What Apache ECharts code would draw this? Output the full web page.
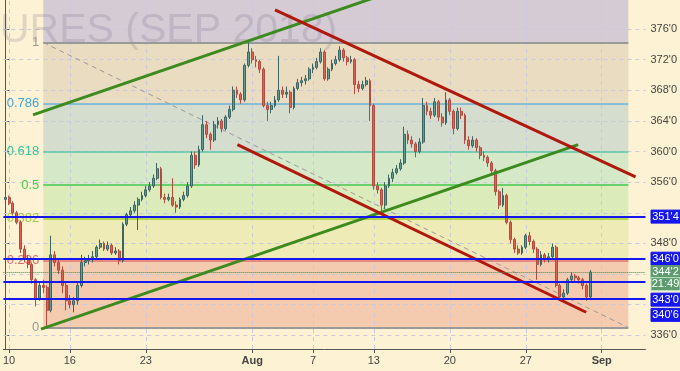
<!DOCTYPE html>
<html><head><meta charset="utf-8">
<script src="https://cdn.jsdelivr.net/npm/echarts@6/dist/echarts.min.js"></script>
<style>html,body{margin:0;padding:0;background:#fdf2d3;}#c{width:680px;height:371px;}</style>
</head><body><div id="c"></div>
<script>
// ---------- data ----------
const tradingDays = ['Jul 9','Jul 10','Jul 11','Jul 12','Jul 13','Jul 16','Jul 17','Jul 18','Jul 19','Jul 20',
 'Jul 23','Jul 24','Jul 25','Jul 26','Jul 27','Jul 30','Jul 31','Aug 1','Aug 2','Aug 3','Aug 6','Aug 7','Aug 8',
 'Aug 9','Aug 10','Aug 13','Aug 14','Aug 15','Aug 16','Aug 17','Aug 20','Aug 21','Aug 22','Aug 23','Aug 24',
 'Aug 27','Aug 28','Aug 29','Aug 30','Aug 31','Sep 4','Sep 5','Sep 6'];
const tickDays = {'Jul 10':'10','Jul 16':'16','Jul 23':'23','Aug 1':'Aug','Aug 7':'7','Aug 13':'13','Aug 20':'20','Aug 27':'27','Sep 4':'Sep'};
const monthTicks = ['Aug', 'Sep'];
const yTicks = [336, 348, 356, 360, 364, 368, 372, 376];

const opens = [
353.75,354,353.25,352,350.75,347.25,346,345.25,343.25,340.75,
342.5,342.25,339.25,346.5,345.5,344.5,342.5,340.5,340,340.5,
342.5,345.5,345.75,346,346.25,347.5,348,347.25,347.75,346.75,
347,345.75,350.5,351.75,352.25,353,353.75,354.25,355,355.5,
356.5,357.75,354,353.75,354,353,352.75,353.75,354.25,355.5,
359.5,358.25,360.25,363.5,362.25,361.5,363.5,364,363,364.5,
365.5,368,367.5,366.75,371.25,373,372,371.75,370.75,366,
365.5,366,366.75,368,367.5,367.75,365.75,368.25,369,369.25,
369.5,370.75,371,371.75,373,369.5,370.75,371.5,372,373.25,
372.25,371.75,372,368.75,368.25,368.75,369.25,366,355.5,355,
353,355.5,356.5,357.25,357.75,358.5,362.25,361.5,361,360,
361.25,366,365.25,364.75,366.5,364.5,363.75,366.75,365.25,363,
365.25,364.75,361.5,360.75,361.5,360.5,359.5,359.25,358.5,357.5,
354.75,353,354.25,350.75,348.5,347.25,346.75,347.5,349,348.25,
347.25,345.25,346.5,346,346.25,347.5,342.5,341,341.5,343.25,
343.75,343.5,343.25,342.5,341];
const closes = [
354,353.25,352,350.75,347.25,346,345.25,343.25,340.75,342.5,
342.25,339.25,346.5,345.5,344.5,342.5,340.5,340,340.5,342.5,
345.5,345.75,346,346.25,347.5,348,347.25,347.75,346.75,347,
345.75,350.5,351.75,352.25,353,353.75,354.25,355,355.5,356.5,
357.75,354,353.75,354,353,352.75,353.75,354.25,355.5,359.5,
358.25,360.25,363.5,362.25,361.5,363.5,364,363,364.5,365.5,
368,367.5,366.75,371.25,373,372,371.75,370.75,366,365.5,
366,366.75,368,367.5,367.75,365.75,368.25,369,369.25,369.5,
370.75,371,371.75,373,369.5,370.75,371.5,372,373.25,372.25,
371.75,372,368.75,368.25,368.75,369.25,366,355.5,355,353,
355.5,356.5,357.25,357.75,358.5,362.25,361.5,361,360,361.25,
366,365.25,364.75,366.5,364.5,363.75,366.75,365.25,363,365.25,
364.75,361.5,360.75,361.5,360.5,359.5,359.25,358.5,357.5,354.75,
353,354.25,350.75,348.5,347.25,346.75,347.5,349,348.25,347.25,
345.25,346.5,346,346.25,347.5,342.5,341,341.5,343.25,343.75,
343.5,343.25,342.5,341,344.25];
const highs = [
354.75,354.25,353.5,352.25,351,347.75,346.5,345.5,343.5,343,
343.25,342.5,349,347,346,345,343,341.25,341,343,
346.5,346.25,346.5,347,347.75,348.5,348.25,348.25,348,347.5,
347.25,350.75,352,352.75,353.5,354,354.75,355.5,356,357,
358.5,358,354.5,354.5,356.5,353.5,354,354.75,356,360,
360,360.75,364.75,364,362.5,364,364.5,364.25,364.75,366,
368.5,368.5,367.75,371.5,374.25,373.5,372.5,372,371,366.5,
366.5,367.25,372.5,368.5,368.5,368,368.5,369.5,369.75,370,
371,371.5,372.25,373.5,373.25,371,372,372.5,373.75,373.5,
372.5,372.5,372.25,369.25,369.25,369.75,369.5,366.25,356,355.25,
356,357,357.75,358.25,359,363.25,362.75,362,361.25,361.75,
367,366.5,365.75,367,366.75,365,367.75,367,365.5,365.75,
365.75,365,362,362,361.75,360.75,360,359.5,358.75,357.75,
355,355.25,354.5,351,348.75,347.75,347.75,349.25,349.5,348.5,
347.5,347,346.75,346.75,348,347.75,342.75,342,343.5,344.25,
344,343.75,343.5,342.75,344.5];
const lows = [
353.5,353,351.75,350.5,346.75,345.5,344.75,342.75,339.75,340.5,
341.5,337,339,345,344,341.5,339.25,339.5,339,340,
342.25,345,345.25,345.5,346,347.25,347,347,346.5,346.5,
345.25,345.5,350.25,351.5,352,349.75,353.5,354,354.75,355.25,
356.25,353.75,353.25,353.5,352.75,352,352.5,353.5,354,355.25,
357.75,358,360,361.75,360.25,361.25,363,362.5,362.75,364.25,
365.25,367,366.25,366.5,371,371.5,371,370.25,365.75,364,
365,365.75,366.5,367,367,365,365.5,368,368.5,368.75,
369.25,370.25,370.75,371.5,369.25,369.25,370.5,371.25,371.75,371.75,
371.25,371.5,367.5,367.75,368,368.5,364,355,354.5,351.75,
352.5,355.25,356,357,357.5,358.25,361,360.5,359.25,359.75,
361,364.75,364.25,364.5,364,363.25,363.5,364.75,362.25,362.75,
364.25,361,360.25,360.5,360,359,358.75,358,357,354.25,
352.5,352.75,350.5,348,346.75,346.5,346.5,347.25,347.75,346.75,
343.25,345,345.5,345.5,346,342.25,340.5,340.5,341.25,343,
343,342.75,342,340.5,340.75];

const levels = [351.5, 346, 343, 340.75];
const levelTexts = ["351'4", "346'0", "343'0", "340'6"];
const lastPrice = 344.25;
const lastText = "344'2";
const countdown = '21:49';

const fibLow = 337.0, fibHigh = 374.25;
const fibRatios = [0, 0.236, 0.382, 0.5, 0.618, 0.786, 1];
const fibStartSlot = 10, fibEndSlot = 164;

const greenUpper = [[7.3, 364.8], [98.3, 380.3]];
const greenLower = [[9.4, 336.8], [150.8, 360.9]];
const redUpper = [[71.0, 378.5], [165.9, 356.7]];
const redLower = [[61.1, 360.9], [152.9, 339.0]];

const yMin = 334.2, yMax = 379.8;
const watermark = 'URES (SEP 2018)';

// ---------- build ----------
const categories = [tradingDays[0] + '#3'];
for (let d = 1; d < tradingDays.length; d++) for (let k = 0; k < 4; k++) categories.push(tradingDays[d] + '#' + k);
const isTick = v => { const p = v.split('#'); return p[1] === '0' && tickDays[p[0]] !== undefined; };
const tickSlots = categories.map((c, i) => isTick(c) ? i : -1).filter(i => i >= 0);
const candles = closes.map((c, i) => [opens[i], c, lows[i], highs[i]]);
const fmt = v => { const w = Math.floor(v + 1e-9); return w + "'" + Math.round((v - w) * 8); };
const fibPrice = r => fibLow + (fibHigh - fibLow) * r;
const xFmt = v => { const t = tickDays[v.split('#')[0]]; return monthTicks.includes(t) ? '{m|' + t + '}' : t; };

const fibStyle = {
  '0':    {line:'#9a9a9a', text:'#9a9a9a', w:2},
  '0.236':{line:'#e07070', text:'#e06a6a', w:1.5},
  '0.382':{line:'#b2d84c', text:'#a6cc3e', w:2},
  '0.5':  {line:'#6ad06a', text:'#4ccc4c', w:2},
  '0.618':{line:'#5cc4a8', text:'#38c29a', w:1.5},
  '0.786':{line:'#6ab2d8', text:'#48a4d6', w:1.5},
  '1':    {line:'#9a9a9a', text:'#9a9a9a', w:2}
};
const bandColors = ['#f5cbb0', '#eeebb6', '#dbebba', '#d5e9c9', '#d5ddcf', '#e9dcc0'];
const topBand = '#d5cbd4';

const bands = [];
for (let i = 0; i < fibRatios.length - 1; i++) {
  bands.push([{coord:[fibStartSlot, fibPrice(fibRatios[i])], itemStyle:{color:bandColors[i]}},
              {coord:[fibEndSlot, fibPrice(fibRatios[i+1])]}]);
}
bands.push([{coord:[fibStartSlot, fibHigh], itemStyle:{color:topBand}}, {coord:[fibEndSlot, yMax]}]);

const fibLines = fibRatios.map(r => {
  const s = fibStyle[String(r)];
  return [{coord:[fibStartSlot, fibPrice(r)], lineStyle:{color:s.line, width:s.w, type:'solid'},
           label:{show:true, position:'start', formatter:String(r), color:s.text, fontSize:13, distance:4,
                  fontFamily:'"Liberation Sans", Arial, sans-serif'}},
          {coord:[fibEndSlot, fibPrice(r)]}];
});

const gridLines = [];
for (let v = 336; v <= 380; v += 4) gridLines.push({yAxis: v});
tickSlots.forEach(s => gridLines.push({xAxis: s}));

const trend = (pts, color, name) => ({
  type:'line', name, xAxisIndex:1, yAxisIndex:0, data:pts, symbol:'none', z:5, silent:true,
  lineStyle:{color, width:3}, clip:true, animation:false
});

const chart = echarts.init(document.getElementById('c'));
chart.setOption({
  animation:false,
  backgroundColor:'#fdf2d3',
  grid:{left:0, right:30, top:0, bottom:22},
  xAxis:[{
    type:'category', data:categories, boundaryGap:true,
    axisLine:{show:true, lineStyle:{color:'#555', width:1}},
    axisTick:{show:true, interval:(i, v) => isTick(v), alignWithLabel:true, length:4, lineStyle:{color:'#555'}},
    axisLabel:{interval:(i, v) => isTick(v), formatter:xFmt, color:'#444', fontSize:11,
               margin:6, fontFamily:'"Liberation Sans", Arial, sans-serif',
               rich:{m:{fontWeight:'bold', color:'#444', fontSize:11, fontFamily:'"Liberation Sans", Arial, sans-serif'}}},
    splitLine:{show:false}
  },{
    type:'value', min:-0.5, max:categories.length - 0.5, show:false
  }],
  yAxis:[{
    type:'value', position:'right', min:yMin, max:yMax,
    axisLine:{show:true, lineStyle:{color:'#555', width:1}},
    axisTick:{show:true, customValues:yTicks, length:4, lineStyle:{color:'#555'}},
    axisLabel:{customValues:yTicks, formatter:fmt, color:'#444', fontSize:11, margin:5,
               fontFamily:'"Liberation Sans", Arial, sans-serif'},
    splitLine:{show:false}
  }],
  series:[
    {type:'line', name:'fib', xAxisIndex:1, yAxisIndex:0, data:[[fibStartSlot, fibHigh],[fibEndSlot, fibLow]],
     symbol:'none', z:3, silent:true, lineStyle:{color:'#9a9a9a', width:1, type:[5,4]},
     markArea:{silent:true, z:1, data:bands},
     markLine:{silent:true, z:3, symbol:'none', data:fibLines, animation:false}},
    {type:'line', name:'grid', xAxisIndex:1, yAxisIndex:0, data:[], z:2, silent:true,
     markLine:{silent:true, z:2, symbol:'none', label:{show:false},
               lineStyle:{color:'#c9c8dc', width:1, type:[4,4]}, data:gridLines, animation:false}},
    {type:'candlestick', name:'price', xAxisIndex:0, yAxisIndex:0, data:candles, z:4, barWidth:2.4,
     itemStyle:{color:'#5e9d94', color0:'#de624f', borderColor:'#3d6662', borderColor0:'#b24c40', borderWidth:1}},
    trend(greenUpper, '#3d8a1e', 'gu'),
    trend(greenLower, '#3d8a1e', 'gl'),
    trend(redUpper, '#b0180e', 'ru'),
    trend(redLower, '#b0180e', 'rl'),
    {type:'line', name:'levels', xAxisIndex:1, yAxisIndex:0, data:[], z:6, silent:true,
     markLine:{silent:true, z:6, symbol:'none', label:{show:false}, animation:false,
       data:[...levels.map(v => ({yAxis:v, lineStyle:{color:'#1616ee', width:2, type:'solid'}})),
             {yAxis:lastPrice, lineStyle:{color:'#3d8a4f', width:1, type:'dotted'}}]}}
  ]
});

// watermark and price tags on the right scale
const yPix = v => chart.convertToPixel({yAxisIndex:0}, v);
const tags = [
  {v:levels[0], t:levelTexts[0], bg:'#1616ee', dy:0},
  {v:levels[1], t:levelTexts[1], bg:'#1616ee', dy:0},
  {v:lastPrice, t:lastText, bg:'#5e9c70', dy:0},
  {v:lastPrice, t:countdown, bg:'#5e9c70', dy:12, border:'#b9e2c2'},
  {v:levels[2], t:levelTexts[2], bg:'#1616ee', dy:18},
  {v:levels[3], t:levelTexts[3], bg:'#1616ee', dy:16}
];
const g = [{type:'text', x:0, y:10, z:2.5, silent:true,
    style:{text:watermark, font:'41px "Liberation Sans", Arial, sans-serif', fill:'rgba(110,100,130,0.2)'}}];
tags.forEach(tg => {
  const y = yPix(tg.v) + tg.dy;
  g.push({type:'rect', z:10, silent:true, shape:{x:651, y:y - 6.5, width:29, height:13},
          style:{fill:tg.bg, stroke:tg.border || tg.bg, lineWidth:1}});
  g.push({type:'text', z:11, silent:true, x:665.5, y:y,
          style:{text:tg.t, fill:'#fff', font:'11px "Liberation Sans", Arial, sans-serif', align:'center', verticalAlign:'middle'}});
});
chart.setOption({graphic:g});
</script></body></html>
